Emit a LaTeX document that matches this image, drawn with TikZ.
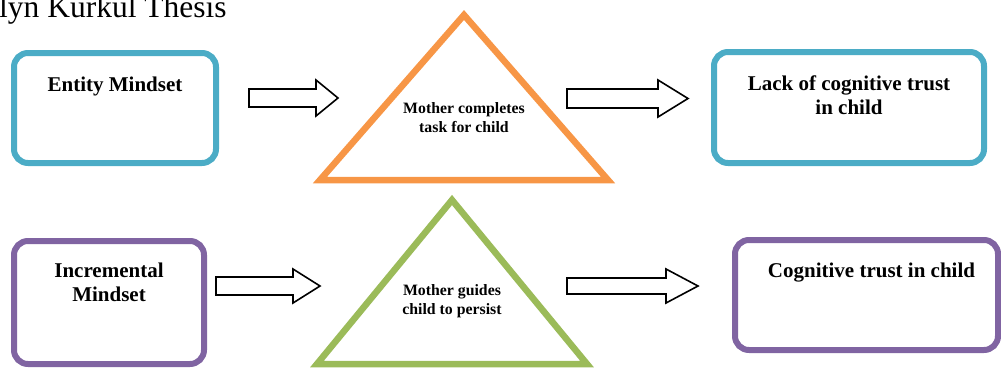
\documentclass[tikz,border=0pt]{standalone}
\usepackage{fontspec}
\setmainfont{Liberation Serif}
\usepackage{xcolor}
\usepackage{tikz}
\usetikzlibrary{
  arrows.meta,
  positioning,
  calc
}
\definecolor{aquaStroke}{HTML}{4BACC6}
\definecolor{purpleStroke}{HTML}{8064A2}
\definecolor{orangeStroke}{HTML}{F79646}
\definecolor{greenStroke}{HTML}{9BBB59}
\tikzset{
  base/.style={
    rectangle, rounded corners=14pt,
    draw, line width=6pt, fill=white,
    inner sep=0pt, outer sep=0pt
  },
  aqua node/.style={base, draw=aquaStroke},
  purple node/.style={base, draw=purpleStroke},
  box text/.style={
    align=center, inner sep=0pt,
    font=\bfseries\fontsize{21}{24}\selectfont
  },
  tri text/.style={
    align=center, inner sep=0pt,
    font=\bfseries\fontsize{15.8}{19}\selectfont
  },
  orange tri/.style={draw=orangeStroke, line width=6.5pt, line join=miter},
  green tri/.style={draw=greenStroke, line width=6.5pt, line join=miter},
  block arrow/.style={draw=black, fill=white, line width=1.6pt, line join=miter},
  title text/.style={inner sep=0pt, font=\fontsize{31.5}{34}\selectfont},
}
% from, to, head length, head half height, shaft half height
\newcommand{\blockarr}[5]{%
  \draw[block arrow] let \p1=(#1), \p2=(#2) in
    (\x1,\y1+#5) -- (\x2-#3,\y1+#5) -- (\x2-#3,\y1+#4) -- (\x2,\y1)
    -- (\x2-#3,\y1-#4) -- (\x2-#3,\y1-#5) -- (\x1,\y1-#5) -- cycle;}

\begin{document}
\begin{tikzpicture}[x=1pt, y=-1pt]
    \useasboundingbox (0,0) rectangle (1001,370);

    % Title
    \node[title text, anchor=base west] (title) at (-1,17) {lyn Kurkul Thesis};

    % Boxes
    \node[aqua node, minimum width=202pt, minimum height=110pt] (entity) at (115,108) {};
    \node[box text, below=24pt of entity.north] (entitytxt) {Entity Mindset};
    \node[aqua node, minimum width=270pt, minimum height=111pt] (lack) at (849,107.5) {};
    \node[box text, below=23.5pt of lack.north] (lacktxt) {Lack of cognitive trust\\in child};
    \node[purple node, minimum width=190pt, minimum height=123pt] (incremental) at (109,302.5) {};
    \node[box text, below=22pt of incremental.north] (incrementaltxt) {Incremental\\Mindset};
    \node[purple node, minimum width=263pt, minimum height=110pt] (cognitive) at (866.5,295) {};
    \node[box text, below=23pt of cognitive.north, xshift=5pt] (cognitivetxt) {Cognitive trust in child};

    % Triangles
    \coordinate (otop) at (464,15);
    \coordinate (oleft) at (320,180);
    \coordinate (oright) at (608,180);
    \draw[orange tri] (otop) -- (oright) -- (oleft) -- cycle;
    \node[tri text, below=87pt of otop] (completes) {Mother completes\\task for child};

    \coordinate (gtop) at (452,200);
    \coordinate (gleft) at (317,364);
    \coordinate (gright) at (587,364);
    \draw[green tri] (gtop) -- (gright) -- (gleft) -- cycle;
    \node[tri text, below=84pt of gtop] (guides) {Mother guides\\child to persist};

    % Arrows
    \coordinate (a1s) at (249,98);   \coordinate (a1e) at (338,98);
    \coordinate (a2s) at (567,98.5); \coordinate (a2e) at (688,98.5);
    \coordinate (a3s) at (216,286);  \coordinate (a3e) at (320,286);
    \coordinate (a4s) at (567,286);  \coordinate (a4e) at (698,286);
    \blockarr{a1s}{a1e}{22pt}{18pt}{9pt}
    \blockarr{a2s}{a2e}{30pt}{18.5pt}{9.5pt}
    \blockarr{a3s}{a3e}{27pt}{17pt}{9pt}
    \blockarr{a4s}{a4e}{32pt}{17pt}{8pt}
\end{tikzpicture}
\end{document}
